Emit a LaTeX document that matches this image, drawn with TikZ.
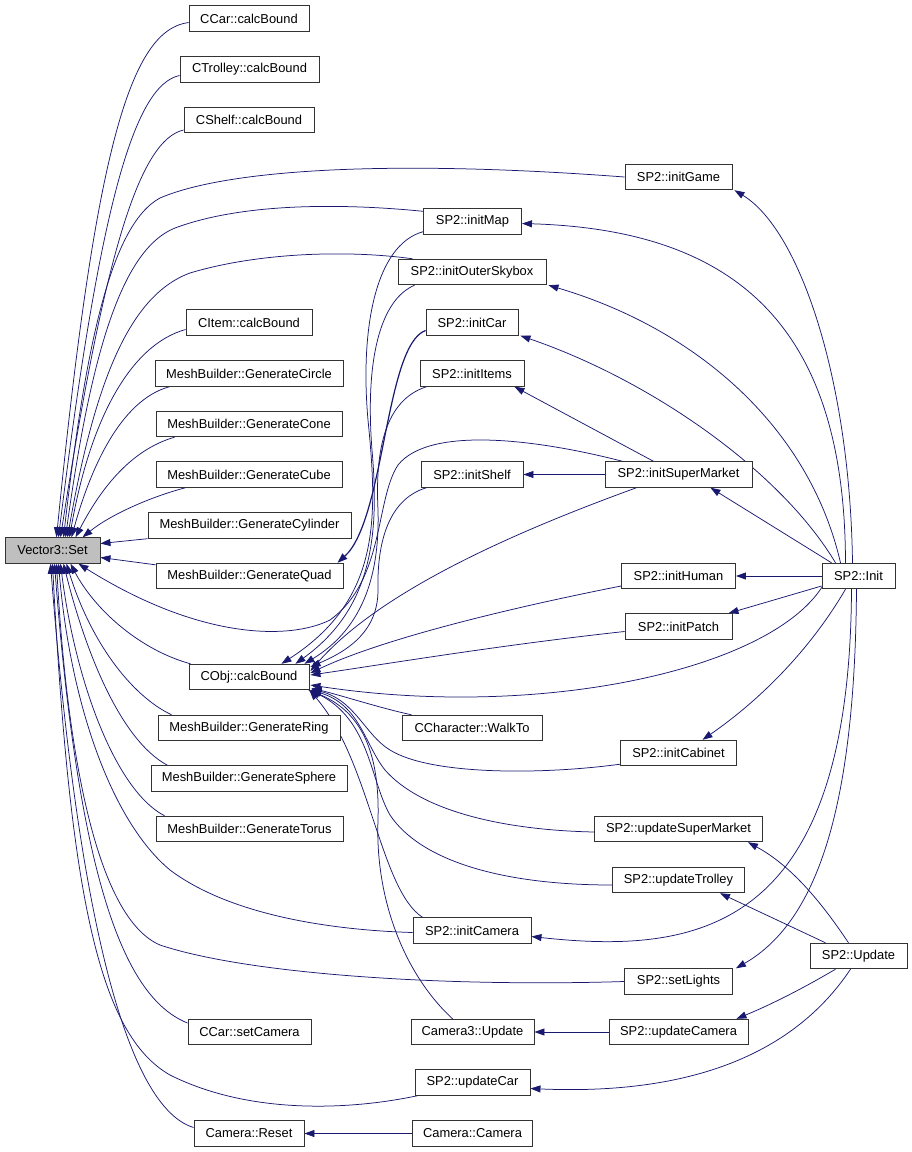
\documentclass[tikz,border=0pt]{standalone}
\usepackage{fontspec}
\setmainfont{Liberation Sans}
\usetikzlibrary{arrows.meta,calc}
\definecolor{edgeblue}{HTML}{191970}
\definecolor{setgray}{HTML}{BFBFBF}
\pgfdeclarelayer{background}
\pgfsetlayers{background,main}
\begin{document}
\begin{tikzpicture}[x=1pt,y=-1pt,
  fn/.style={draw=black!80, line width=0.9pt, rectangle, minimum height=25.5pt, inner sep=0pt,
    font=\fontsize{12.9}{15}\selectfont, fill=white},
  call/.style={draw=edgeblue, line width=0.75pt, -{Triangle[length=10pt,width=7pt]}},
]
\useasboundingbox (0,0) rectangle (912,1152);
% ---------- nodes ----------
\node[fn, minimum width=95pt, fill=setgray] (set) at (52.5,550.5) {Vector3::Set};
\node[fn, minimum width=120pt] (ccar) at (249,18.5) {CCar::calcBound};
\node[fn, minimum width=139pt] (ctrolley) at (249.5,69.5) {CTrolley::calcBound};
\node[fn, minimum width=130pt] (cshelf) at (249,120) {CShelf::calcBound};
\node[fn, minimum width=107pt] (initgame) at (678.5,177) {SP2::initGame};
\node[fn, minimum width=98pt] (initmap) at (472.5,221.5) {SP2::initMap};
\node[fn, minimum width=148pt] (skybox) at (472,272) {SP2::initOuterSkybox};
\node[fn, minimum width=126pt] (citem) at (249,322.5) {CItem::calcBound};
\node[fn, minimum width=92pt] (initcar) at (472,322.5) {SP2::initCar};
\node[fn, minimum width=188pt] (circle) at (249,373.5) {MeshBuilder::GenerateCircle};
\node[fn, minimum width=104pt] (inititems) at (472,373.5) {SP2::initItems};
\node[fn, minimum width=186pt] (cone) at (249,424) {MeshBuilder::GenerateCone};
\node[fn, minimum width=186pt] (cube) at (249,474.5) {MeshBuilder::GenerateCube};
\node[fn, minimum width=102pt] (initshelf) at (472,474.5) {SP2::initShelf};
\node[fn, minimum width=147pt] (supermarket) at (678.5,474.5) {SP2::initSuperMarket};
\node[fn, minimum width=203pt] (cylinder) at (249.5,525.5) {MeshBuilder::GenerateCylinder};
\node[fn, minimum width=187pt] (quad) at (249.5,576) {MeshBuilder::GenerateQuad};
\node[fn, minimum width=114pt] (inithuman) at (678.5,576) {SP2::initHuman};
\node[fn, minimum width=73pt] (init) at (858.5,576) {SP2::Init};
\node[fn, minimum width=107pt] (initpatch) at (678.5,626.5) {SP2::initPatch};
\node[fn, minimum width=120pt] (cobj) at (249,677) {CObj::calcBound};
\node[fn, minimum width=182pt] (ring) at (249,728) {MeshBuilder::GenerateRing};
\node[fn, minimum width=140pt] (walkto) at (472,728) {CCharacter::WalkTo};
\node[fn, minimum width=116pt] (initcabinet) at (678.5,753) {SP2::initCabinet};
\node[fn, minimum width=196pt] (sphere) at (249,778.5) {MeshBuilder::GenerateSphere};
\node[fn, minimum width=187pt] (torus) at (249.5,829) {MeshBuilder::GenerateTorus};
\node[fn, minimum width=168pt] (updsm) at (678.5,829) {SP2::updateSuperMarket};
\node[fn, minimum width=132pt] (updtrolley) at (678.5,880) {SP2::updateTrolley};
\node[fn, minimum width=118pt] (initcamera) at (472,930.5) {SP2::initCamera};
\node[fn, minimum width=97pt] (update) at (858.5,956) {SP2::Update};
\node[fn, minimum width=108pt] (setlights) at (678.5,981.5) {SP2::setLights};
\node[fn, minimum width=123pt] (setcamera) at (249.5,1032) {CCar::setCamera};
\node[fn, minimum width=123pt] (cam3upd) at (472.5,1032) {Camera3::Update};
\node[fn, minimum width=139pt] (updcamera) at (678.5,1032) {SP2::updateCamera};
\node[fn, minimum width=115pt] (updcar) at (472.5,1082.5) {SP2::updateCar};
\node[fn, minimum width=110pt] (reset) at (249,1133.5) {Camera::Reset};
\node[fn, minimum width=120pt] (camera) at (472.5,1133.5) {Camera::Camera};
% ---------- edges ----------
\begin{pgfonlayer}{background}
% into Vector3::Set (top)
\draw[call] ($(ccar.west)+(0,4)$) .. controls (130,30) and (95,150) .. ($(set.north)+(4,0)$);
\draw[call] ($(ctrolley.west)+(0,6)$) .. controls (135,85) and (100,200) .. ($(set.north)+(6,0)$);
\draw[call] ($(cshelf.west)+(0,10)$) .. controls (140,140) and (105,250) .. ($(set.north)+(8,0)$);
\draw[call] (initgame.west) .. controls (400,160) and (230,168) .. (160,198) .. controls (110,225) and (85,350) .. ($(set.north)+(11,0)$);
\draw[call] ($(initmap.north west)+(0,3)$) .. controls (360,205) and (250,200) .. (175,228) .. controls (120,250) and (90,360) .. ($(set.north)+(13,0)$);
\draw[call] ($(skybox.north west)+(15,0)$) .. controls (350,250) and (260,252) .. (190,273) .. controls (130,295) and (95,380) .. ($(set.north)+(15,0)$);
\draw[call] ($(citem.west)+(0,7)$) .. controls (130,345) and (90,420) .. ($(set.north)+(17,0)$);
\draw[call] ($(circle.south west)+(15,0)$) .. controls (120,400) and (90,470) .. ($(set.north)+(19,0)$);
\draw[call] ($(cone.south west)+(19,0)$) .. controls (130,450) and (100,490) .. ($(set.north)+(23,0)$);
\draw[call] ($(cube.south west)+(30,0)$) .. controls (150,497) and (110,515) .. ($(set.north)+(30,0)$);
\draw[call] (cylinder.south west) -- ($(set.east)+(0,-7)$);
\draw[call] ($(quad.north west)+(0,2)$) -- ($(set.east)+(0,7)$);
% into Vector3::Set (bottom)
\draw[call] ($(supermarket.north west)+(18,0)$) .. controls (540,440) and (430,425) .. (398,465) .. controls (375,500) and (385,580) .. (330,620) .. controls (290,640) and (200,640) .. ($(set.south east)+(-22,0)$);
\draw[call] ($(cobj.north west)+(2,0)$) .. controls (140,650) and (95,610) .. ($(set.south)+(18,0)$);
\draw[call] ($(ring.north west)+(14,0)$) .. controls (130,695) and (90,640) .. ($(set.south)+(14,0)$);
\draw[call] ($(sphere.north west)+(17,0)$) .. controls (120,740) and (85,650) .. ($(set.south)+(11,0)$);
\draw[call] ($(torus.north west)+(9,0)$) .. controls (115,790) and (75,680) .. ($(set.south)+(8,0)$);
\draw[call] ($(initcamera.west)+(0,2)$) .. controls (330,930) and (230,915) .. (170,870) .. controls (110,820) and (70,700) .. ($(set.south)+(6,0)$);
\draw[call] (setlights.west) .. controls (450,987) and (250,975) .. (160,945) .. controls (90,915) and (65,720) .. ($(set.south)+(4,0)$);
\draw[call] ($(setcamera.west)+(0,-9)$) .. controls (130,1000) and (80,900) .. ($(set.south)+(2,0)$);
\draw[call] ($(updcar.south west)+(3,0)$) .. controls (350,1110) and (250,1115) .. (170,1075) .. controls (100,1035) and (70,900) .. (set.south);
\draw[call] ($(reset.west)+(0,-6)$) .. controls (120,1105) and (75,880) .. ($(set.south)+(-2,0)$);
% into GenerateQuad
\draw[call, line width=1.2pt] ($(initcar.west)+(0,8)$) .. controls (385,345) and (385,520) .. ($(quad.north east)+(-6,0)$);
% into CObj::calcBound
\draw[call] ($(initmap.south west)+(0,-3)$) .. controls (375,245) and (360,330) .. (368,420) .. controls (378,520) and (380,600) .. ($(cobj.north east)+(-28,0)$);
\draw[call] ($(skybox.south west)+(17,0)$) .. controls (380,300) and (365,360) .. (372,450) .. controls (380,540) and (370,610) .. ($(cobj.north east)+(-14,0)$);
\draw[call] ($(inititems.south west)+(7,0)$) .. controls (385,400) and (375,450) .. (378,510) .. controls (380,580) and (360,630) .. ($(cobj.north east)+(-5,0)$);
\draw[call] ($(initshelf.south west)+(6,0)$) .. controls (385,500) and (377,550) .. (378,590) .. controls (378,630) and (350,650) .. ($(cobj.north east)+(1,3)$);
\draw[call] ($(supermarket.south west)+(32,0)$) .. controls (520,530) and (380,590) .. ($(cobj.east)+(1,-6)$);
\draw[call] ($(inithuman.west)+(0,10)$) .. controls (500,610) and (380,640) .. ($(cobj.east)+(1,-4)$);
\draw[call] ($(initpatch.west)+(0,5)$) .. controls (500,645) and (380,665) .. ($(cobj.east)+(1,-2)$);
\draw[call] ($(init.south west)+(1,-3)$) .. controls (770,670) and (540,720) .. ($(cobj.east)+(1,8)$);
\draw[call] ($(walkto.north west)+(10,0)$) .. controls (380,708) and (340,695) .. ($(cobj.south east)+(2,-2)$);
\draw[call] ($(initcabinet.south west)+(0,-2)$) .. controls (540,775) and (430,775) .. (390,750) .. controls (365,735) and (355,700) .. ($(cobj.south east)+(2,-1)$);
\draw[call] ($(updsm.west)+(0,3)$) .. controls (500,830) and (420,810) .. (385,770) .. controls (365,745) and (360,705) .. ($(cobj.south east)+(2,0)$);
\draw[call] ($(updtrolley.west)+(0,5)$) .. controls (500,885) and (420,860) .. (390,815) .. controls (370,780) and (370,720) .. ($(cobj.south east)+(1,0)$);
\draw[call] ($(initcamera.north west)+(10,0)$) .. controls (380,890) and (370,760) .. (cobj.south east);
\draw[call] ($(cam3upd.north west)+(42,0)$) .. controls (405,975) and (375,900) .. (378,820) .. controls (380,750) and (360,710) .. ($(cobj.south east)+(-1,0)$);
% SP2::Init callees
\draw[call] ($(init.north)+(-6,0)$) .. controls (850,380) and (800,230) .. ($(initgame.south east)+(2,0)$);
\draw[call] ($(init.north)+(-13,0)$) .. controls (845,330) and (740,230) .. ($(initmap.east)+(0,2)$);
\draw[call] ($(init.north)+(-18,0)$) .. controls (810,430) and (700,330) .. ($(skybox.south east)+(2,0)$);
\draw[call] ($(init.north)+(-23,0)$) .. controls (780,470) and (650,380) .. ($(initcar.south east)+(2,0)$);
\draw[call] ($(init.north west)+(10,0)$) -- ($(supermarket.south east)+(-42,0)$);
\draw[call] (init.west) -- (inithuman.east);
\draw[call] ($(init.west)+(0,10)$) -- ($(initpatch.north east)+(-4,0)$);
\draw[call] ($(init.south)+(-13,0)$) .. controls (810,650) and (760,700) .. ($(initcabinet.north)+(24,0)$);
\draw[call] ($(init.south)+(-7,0)$) .. controls (850,930) and (700,955) .. ($(initcamera.east)+(0,6)$);
\draw[call] ($(init.south)+(-2,0)$) .. controls (855,800) and (820,920) .. ($(setlights.north east)+(3,0)$);
% SP2::initSuperMarket callees
\draw[call] ($(supermarket.north)+(-25,0)$) -- ($(inititems.south east)+(-10,0)$);
\draw[call] (supermarket.west) -- (initshelf.east);
% SP2::Update callees
\draw[call] ($(update.north)+(-10,0)$) .. controls (820,900) and (790,865) .. ($(updsm.south east)+(-15,0)$);
\draw[call] ($(update.north west)+(16,0)$) -- ($(updtrolley.south east)+(-25,0)$);
\draw[call] ($(update.south west)+(26,0)$) .. controls (800,990) and (770,1005) .. ($(updcamera.north east)+(-12,0)$);
\draw[call] ($(update.south)+(-8,0)$) .. controls (790,1060) and (680,1095) .. ($(updcar.east)+(0,6)$);
\draw[call] (updcamera.west) -- (cam3upd.east);
\draw[call] (camera.west) -- (reset.east);
\end{pgfonlayer}
\end{tikzpicture}
\end{document}
